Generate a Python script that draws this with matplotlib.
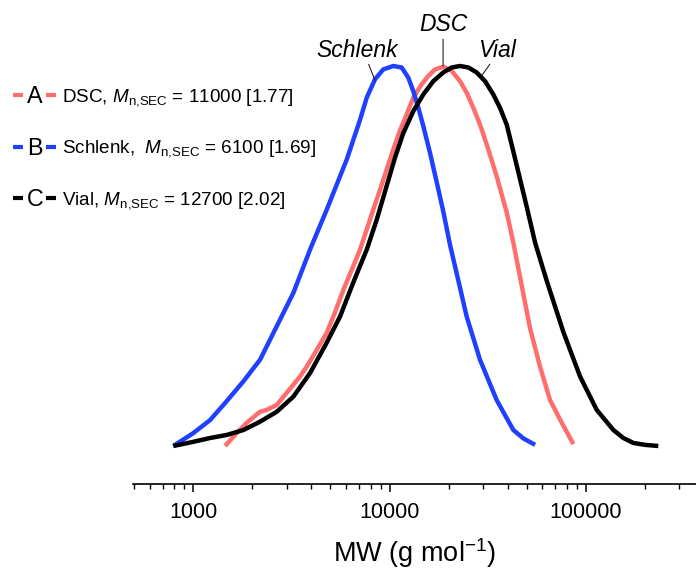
import numpy as np
import matplotlib
matplotlib.use("Agg")
import matplotlib.pyplot as plt
from matplotlib.lines import Line2D
from matplotlib.ticker import LogLocator, FuncFormatter, NullFormatter

plt.rcParams["font.family"] = ["Liberation Sans", "DejaVu Sans"]
plt.rcParams["mathtext.fontset"] = "custom"
plt.rcParams["mathtext.rm"] = "Liberation Sans"
plt.rcParams["mathtext.it"] = "Liberation Sans:italic"

# SEC traces: log10(MW) and normalised signal
schlenk_logm = [2.898, 3.000, 3.085, 3.170, 3.255, 3.340, 3.425, 3.510, 3.595, 3.680,
                3.782, 3.850, 3.884, 3.926, 3.968, 4.019, 4.062, 4.096, 4.121, 4.147,
                4.172, 4.206, 4.241, 4.274, 4.308, 4.359, 4.393, 4.461, 4.546, 4.631,
                4.682, 4.742]
schlenk_h = [0.000, 0.034, 0.068, 0.118, 0.170, 0.227, 0.315, 0.403, 0.517, 0.622,
             0.754, 0.859, 0.917, 0.965, 0.991, 1.000, 0.996, 0.969, 0.934, 0.890,
             0.842, 0.772, 0.693, 0.617, 0.530, 0.417, 0.341, 0.227, 0.121, 0.042,
             0.020, 0.003]

dsc_logm = [3.162, 3.221, 3.272, 3.340, 3.374, 3.425, 3.476, 3.544, 3.578, 3.629,
            3.680, 3.714, 3.765, 3.815, 3.850, 3.917, 3.952, 4.019, 4.053, 4.088,
            4.121, 4.164, 4.198, 4.232, 4.274, 4.317, 4.359, 4.393, 4.427, 4.461,
            4.495, 4.546, 4.597, 4.631, 4.665, 4.716, 4.767, 4.818, 4.878, 4.937]
dsc_h = [0.000, 0.034, 0.061, 0.090, 0.095, 0.108, 0.140, 0.183, 0.209, 0.253,
         0.298, 0.341, 0.411, 0.473, 0.517, 0.622, 0.675, 0.780, 0.830, 0.873,
         0.917, 0.952, 0.974, 0.991, 0.998, 0.987, 0.960, 0.930, 0.890, 0.846,
         0.794, 0.710, 0.615, 0.535, 0.445, 0.310, 0.209, 0.121, 0.061, 0.005]

vial_logm = [2.898, 3.000, 3.085, 3.170, 3.255, 3.340, 3.425, 3.510, 3.595, 3.680,
             3.748, 3.815, 3.884, 3.935, 4.028, 4.070, 4.121, 4.172, 4.223, 4.274,
             4.317, 4.359, 4.402, 4.444, 4.487, 4.529, 4.563, 4.597, 4.631, 4.699,
             4.742, 4.801, 4.886, 4.971, 5.056, 5.141, 5.192, 5.243, 5.302, 5.370]
vial_h = [0.000, 0.011, 0.021, 0.029, 0.042, 0.064, 0.090, 0.130, 0.192, 0.272,
          0.341, 0.430, 0.517, 0.596, 0.759, 0.823, 0.881, 0.925, 0.960, 0.983,
          0.996, 1.000, 0.996, 0.983, 0.960, 0.925, 0.890, 0.846, 0.775, 0.630,
          0.535, 0.435, 0.300, 0.183, 0.095, 0.042, 0.021, 0.008, 0.003, 0.000]

series = [
    ("A", "DSC, $M_{\\mathrm{n{,}SEC}}$ = 11000 [1.77]", dsc_logm, dsc_h, "#ff6e6e"),
    ("B", "Schlenk,  $M_{\\mathrm{n{,}SEC}}$ = 6100 [1.69]", schlenk_logm, schlenk_h, "#2040ff"),
    ("C", "Vial, $M_{\\mathrm{n{,}SEC}}$ = 12700 [2.02]", vial_logm, vial_h, "#000000"),
]

# peak labels: text, (log MW, h) of the text, (log MW, h) where the leader meets the curve
peak_labels = [
    ("Schlenk", (3.834, 1.042), (3.926, 0.962), (0.63, 0.0)),
    ("DSC", (4.273, 1.108), (4.273, 1.0), (0.5, 0.0)),
    ("Vial", (4.548, 1.042), (4.472, 0.976), (0.36, 0.0)),
]

W, H = 696, 569
fig = plt.figure(figsize=(W / 100, H / 100), dpi=100)
ax = fig.add_axes([132.7 / W, 84.7 / H, 1 - 132.7 / W, (484.3 - 30) / H])

for letter, label, lm, h, col in series:
    ax.plot(10 ** np.array(lm), h, color=col, lw=3.2, solid_capstyle="butt",
            solid_joinstyle="round")

ax.set_xscale("log")
ax.set_xlim(10 ** 2.691, 10 ** 5.562)
ax.set_ylim(-0.1008, 1.0947)

for txt, tpos, cpos, rel in peak_labels:
    ax.annotate(txt, xy=(10 ** cpos[0], cpos[1]), xytext=(10 ** tpos[0], tpos[1]),
                textcoords="data", ha="center", va="center", fontsize=16.5,
                style="italic", annotation_clip=False,
                arrowprops=dict(arrowstyle="-", color="#222222", lw=0.8,
                                shrinkA=0, shrinkB=0, relpos=rel))

for side in ["left", "right", "top"]:
    ax.spines[side].set_visible(False)
ax.spines["bottom"].set_linewidth(1.2)
ax.set_yticks([])
ax.xaxis.set_major_locator(LogLocator(base=10, numticks=10))
ax.xaxis.set_minor_locator(LogLocator(base=10, subs=np.arange(2, 10), numticks=20))
ax.xaxis.set_major_formatter(FuncFormatter(lambda v, p: f"{v:.0f}"))
ax.xaxis.set_minor_formatter(NullFormatter())
ax.tick_params(axis="x", which="major", length=6, width=1.1, labelsize=15.5, pad=7)
ax.tick_params(axis="x", which="minor", length=3.5, width=1.0)

fig.text(415 / W, 1 - 562 / H, "MW (g mol$^{-1}$)", ha="center", va="baseline",
         fontsize=19.5)

# legend: dash, letter, dash, description
rows_y = [95, 146.7, 198]
for (letter, label, lm, h, col), yc in zip(series, rows_y):
    for x0, x1 in [(13, 23), (46, 56)]:
        fig.add_artist(Line2D([x0 / W, x1 / W], [1 - yc / H, 1 - yc / H],
                              transform=fig.transFigure, color=col, lw=3.0,
                              solid_capstyle="butt"))
    fig.text(35 / W, 1 - (yc + 8.3) / H, letter, ha="center", va="baseline",
             fontsize=16.8)
    fig.text(62 / W, 1 - (yc + 6.3) / H, label, ha="left", va="baseline",
             fontsize=13.6)

fig.savefig("out.png", dpi=100)
